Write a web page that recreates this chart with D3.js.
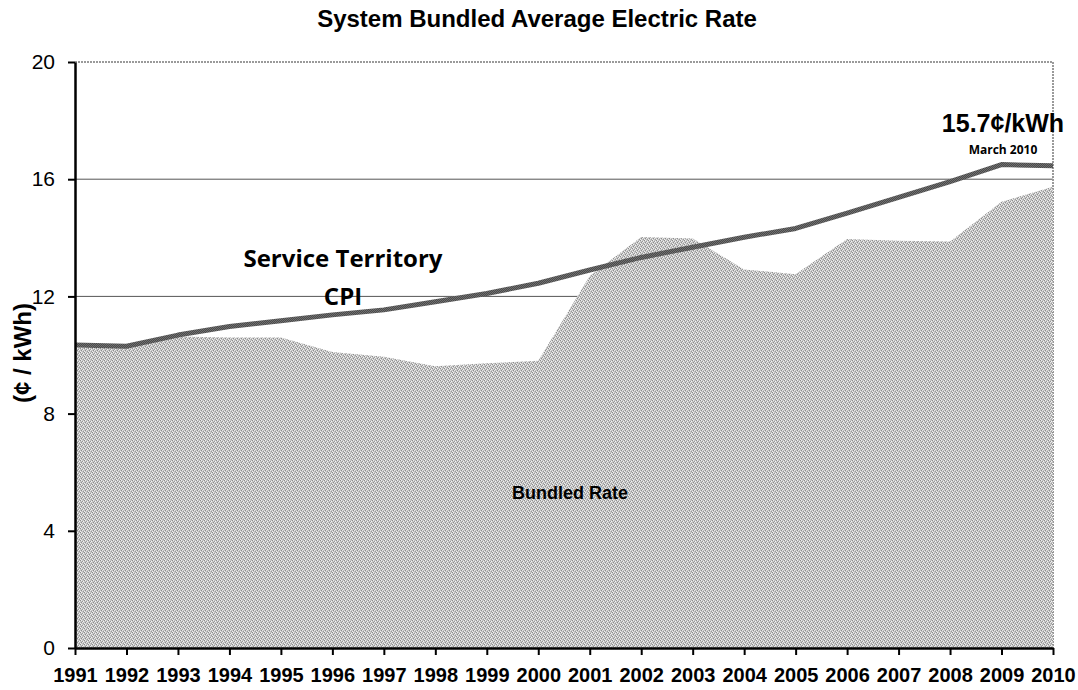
<!DOCTYPE html>
<html>
<head>
<meta charset="utf-8">
<script src="https://cdn.jsdelivr.net/npm/d3@7"></script>
<style>
  body { margin: 0; background: #fff; }
  svg { display: block; }
</style>
</head>
<body>
<div id="chart"></div>
<script>
let years = [1991, 1992, 1993, 1994, 1995, 1996, 1997, 1998, 1999, 2000,
  2001, 2002, 2003, 2004, 2005, 2006, 2007, 2008, 2009, 2010]
let bundledRate = [10.25, 10.25, 10.63, 10.6, 10.6, 10.1, 9.94, 9.62, 9.72, 9.8,
  12.7, 14.03, 13.98, 12.92, 12.76, 13.96, 13.9, 13.87, 15.23, 15.74]
let cpi = [10.34, 10.3, 10.68, 10.97, 11.17, 11.37, 11.54, 11.82, 12.1, 12.45,
  12.9, 13.33, 13.68, 14.02, 14.32, 14.84, 15.38, 15.92, 16.5, 16.46]
let yTicks = [0, 4, 8, 12, 16, 20]
let gridValues = [4, 8, 12, 16]

let width = 1078
let height = 690
let margin = { top: 62, right: 25, bottom: 42, left: 75 }

let svg = d3.select('#chart').append('svg')
  .attr('width', width)
  .attr('height', height)

// stipple texture for the bundled rate area
let defs = svg.append('defs')
let pat = defs.append('pattern')
  .attr('id', 'stipple')
  .attr('width', 4)
  .attr('height', 4)
  .attr('patternUnits', 'userSpaceOnUse')
pat.append('rect').attr('width', 4).attr('height', 4).attr('fill', '#c4c4c4')
let dots = [[0, 0, '#8c8c8c'], [2, 1, '#9a9a9a'], [1, 2, '#8c8c8c'], [3, 3, '#9a9a9a'],
  [1, 0, '#efefef'], [3, 1, '#f4f4f4'], [0, 3, '#efefef'], [2, 2, '#e8e8e8']]
dots.forEach(d => {
  pat.append('rect').attr('x', d[0]).attr('y', d[1]).attr('width', 1).attr('height', 1).attr('fill', d[2])
})

let linePat = defs.append('pattern')
  .attr('id', 'lineStipple')
  .attr('width', 2)
  .attr('height', 2)
  .attr('patternUnits', 'userSpaceOnUse')
linePat.append('rect').attr('width', 2).attr('height', 2).attr('fill', '#4a4a4a')
linePat.append('rect').attr('width', 1).attr('height', 1).attr('fill', '#707070')
linePat.append('rect').attr('x', 1).attr('y', 1).attr('width', 1).attr('height', 1).attr('fill', '#707070')

let x = d3.scaleLinear()
  .domain([years[0], years[years.length - 1]])
  .range([margin.left, width - margin.right])
let y = d3.scaleLinear()
  .domain([0, 20])
  .range([height - margin.bottom, margin.top])

// gridlines
svg.append('g').selectAll('line')
  .data(gridValues)
  .enter().append('line')
  .attr('x1', x.range()[0])
  .attr('x2', x.range()[1])
  .attr('y1', d => y(d))
  .attr('y2', d => y(d))
  .attr('stroke', '#555')
  .attr('stroke-width', 1)

// plot frame (top and right)
svg.append('path')
  .attr('d', 'M' + x.range()[0] + ',' + y(20) + 'H' + x.range()[1] + 'V' + y(0))
  .attr('fill', 'none')
  .attr('stroke', '#9a9a9a')
  .attr('stroke-width', 2)
  .attr('stroke-dasharray', '2,1')

let area = d3.area()
  .x((d, i) => x(years[i]))
  .y0(y(0))
  .y1(d => y(d))
svg.append('path')
  .datum(bundledRate)
  .attr('d', area)
  .attr('fill', 'url(#stipple)')

let line = d3.line()
  .x((d, i) => x(years[i]))
  .y(d => y(d))
svg.append('path')
  .datum(cpi)
  .attr('d', line)
  .attr('fill', 'none')
  .attr('stroke', 'url(#lineStipple)')
  .attr('stroke-width', 5)
  .attr('stroke-linejoin', 'round')

// axes
let yAxis = svg.append('g')
  .attr('transform', 'translate(' + margin.left + ',0)')
  .call(d3.axisLeft(y).tickValues(yTicks).tickSize(7).tickPadding(13).tickSizeOuter(0))
yAxis.select('.domain').attr('stroke', '#000').attr('stroke-width', 2.5)
yAxis.selectAll('.tick line').attr('stroke', '#000').attr('stroke-width', 2)
yAxis.selectAll('text')
  .attr('font-family', 'Liberation Sans, Arial, sans-serif')
  .attr('font-size', 21)
  .attr('fill', '#000')

let xAxis = svg.append('g')
  .attr('transform', 'translate(0,' + (height - margin.bottom) + ')')
  .call(d3.axisBottom(x).tickValues(years).tickFormat(d3.format('d')).tickSize(7).tickPadding(13).tickSizeOuter(0))
xAxis.select('.domain').attr('stroke', '#000').attr('stroke-width', 2.5)
xAxis.selectAll('.tick line').attr('stroke', '#000').attr('stroke-width', 2)
xAxis.selectAll('text')
  .attr('font-family', 'Liberation Sans, Arial, sans-serif')
  .attr('font-weight', 'bold')
  .attr('font-size', 20)
  .attr('fill', '#000')

// titles and annotations
svg.append('text')
  .attr('x', 537)
  .attr('y', 27)
  .attr('text-anchor', 'middle')
  .attr('font-family', 'Liberation Sans, Arial, sans-serif')
  .attr('font-weight', 'bold')
  .attr('font-size', 24)
  .text('System Bundled Average Electric Rate')

svg.append('text')
  .attr('text-anchor', 'middle')
  .attr('transform', 'translate(' + 31 + ',' + 353 + ')rotate(-90)')
  .attr('font-family', 'Liberation Sans, Arial, sans-serif')
  .attr('font-weight', 'bold')
  .attr('font-size', 24)
  .text('(¢ / kWh)')

svg.append('text')
  .attr('x', 343)
  .attr('y', 267)
  .attr('text-anchor', 'middle')
  .attr('font-family', 'Open Sans, Lato, sans-serif')
  .attr('font-weight', 'bold')
  .attr('font-size', 24)
  .text('Service Territory')
svg.append('text')
  .attr('x', 343)
  .attr('y', 305)
  .attr('text-anchor', 'middle')
  .attr('font-family', 'Open Sans, Lato, sans-serif')
  .attr('font-weight', 'bold')
  .attr('font-size', 24)
  .text('CPI')

svg.append('text')
  .attr('x', 570)
  .attr('y', 499)
  .attr('text-anchor', 'middle')
  .attr('font-family', 'Liberation Sans, Arial, sans-serif')
  .attr('font-weight', 'bold')
  .attr('font-size', 18)
  .text('Bundled Rate')

svg.append('text')
  .attr('x', 1003)
  .attr('y', 132)
  .attr('text-anchor', 'middle')
  .attr('font-family', 'Liberation Sans, Arial, sans-serif')
  .attr('font-weight', 'bold')
  .attr('font-size', 25)
  .text('15.7¢/kWh')
svg.append('text')
  .attr('x', 1003)
  .attr('y', 154)
  .attr('text-anchor', 'middle')
  .attr('font-family', 'Open Sans, Lato, sans-serif')
  .attr('font-weight', 'bold')
  .attr('font-size', 12)
  .text('March 2010')
</script>
</body>
</html>
